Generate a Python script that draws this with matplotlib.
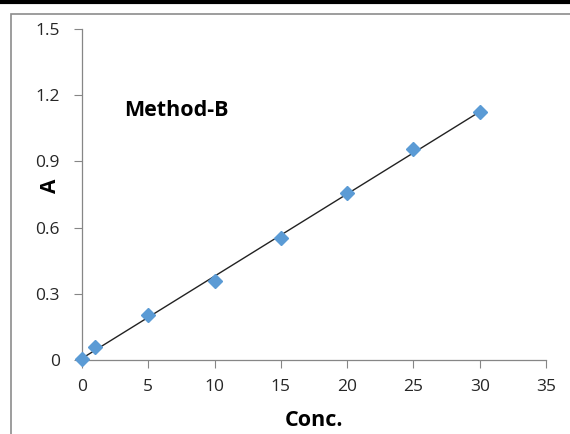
import numpy as np
import matplotlib
matplotlib.use("Agg")
import matplotlib.pyplot as plt
from matplotlib.lines import Line2D
from matplotlib.patches import Rectangle

conc = [0, 1, 5, 10, 15, 20, 25, 30]
absorb = [0.005, 0.058, 0.203, 0.357, 0.553, 0.755, 0.955, 1.122]
x_ticks = [0, 5, 10, 15, 20, 25, 30, 35]
y_ticks = [0, 0.3, 0.6, 0.9, 1.2, 1.5]
y_tick_labels = ["0", "0.3", "0.6", "0.9", "1.2", "1.5"]

plt.rcParams['font.family'] = ['Open Sans', 'DejaVu Sans']

fig = plt.figure(figsize=(5.7, 4.34), dpi=100)

# outer frame and top rule like in the source document
fig.add_artist(Rectangle((11 / 570, -0.05), 1.0, 1 - 14 / 434 + 0.05,
                         transform=fig.transFigure, fill=False,
                         edgecolor="#8c8c8c", linewidth=1.2))
fig.add_artist(Line2D([0, 1], [1 - 2 / 434, 1 - 2 / 434], transform=fig.transFigure,
                      color="black", linewidth=3))

ax = fig.add_axes([82 / 570, 1 - 360 / 434, (546 - 82) / 570, (360 - 29) / 434])

# linear trend line
slope, intercept = np.polyfit(conc, absorb, 1)
xs = np.array([conc[0], conc[-1]])
ax.plot(xs, slope * xs + intercept, color="#222222", linewidth=1.0, zorder=2)
ax.plot(conc, absorb, linestyle="none", marker="D", markersize=7.5,
        color="#5b9bd5", markeredgecolor="#5b9bd5", zorder=3, clip_on=False)

ax.set_xlim(0, 35)
ax.set_ylim(0, 1.5)
ax.set_xticks(x_ticks)
ax.set_yticks(y_ticks)
ax.set_yticklabels(y_tick_labels)

for s in ["top", "right"]:
    ax.spines[s].set_visible(False)
for s in ["left", "bottom"]:
    ax.spines[s].set_color("#868686")
    ax.spines[s].set_linewidth(0.9)
ax.tick_params(direction="out", length=6, color="#868686", labelsize=12.5,
               labelcolor="#262626")
ax.tick_params(axis="x", pad=8)
ax.tick_params(axis="y", pad=10)

ax.set_xlabel("Conc.", fontsize=15.5, fontweight="bold")
ax.set_ylabel("A", fontsize=15, fontweight="bold")
ax.xaxis.set_label_coords((314 - 82) / 464, -(421 - 360) / 331)
ax.yaxis.set_label_coords((50 - 82) / 464, (360 - 186) / 331)
ax.xaxis.label.set_va("center")
ax.yaxis.label.set_va("center")
ax.text(3.2, 1.13, "Method-B", fontsize=15.5, fontweight="bold", va="center")

fig.savefig("out.png", dpi=100)
